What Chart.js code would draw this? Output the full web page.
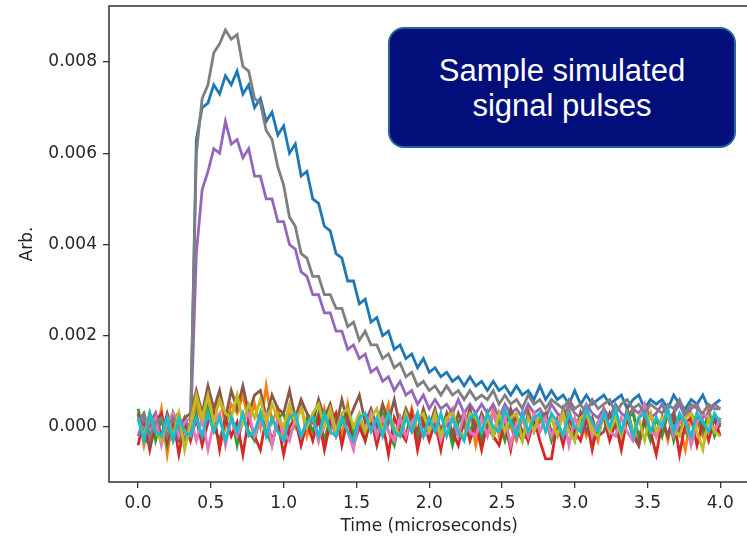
<!DOCTYPE html>
<html lang="en">
  <head>
    <meta charset="utf-8" />
    <title>Sample simulated signal pulses</title>
    <style>
      * {
        margin: 0;
        padding: 0;
      }
      body {
        width: 747px;
        height: 537px;
        overflow: hidden;
        background: #fff;
        position: relative;
      }
      #myChart {
        position: absolute;
        left: 0;
        top: 0;
      }
      .noteBox {
        position: absolute;
        left: 388px;
        top: 27px;
        width: 344px;
        height: 117px;
        border: 2px solid #23649a;
        border-radius: 16px;
        background: #020f7b;
        color: #fff;
        font-family: "Liberation Sans", Arial, sans-serif;
        font-size: 31px;
        line-height: 35px;
        display: flex;
        align-items: center;
        justify-content: center;
        text-align: center;
      }
    </style>
  </head>
  <body>
    <canvas id="myChart" width="760" height="537"></canvas>
    <div class="noteBox">Sample simulated<br />signal pulses</div>
    <script src="https://cdn.jsdelivr.net/npm/chart.js/dist/chart.umd.min.js"></script>
    <script>
      // time grid, 0.04 us steps from 0 to 4 us
      const times = Array.from({ length: 101 }, (_, i) => +(i * 0.04).toFixed(2));
      const xTicks = [0, 0.5, 1.0, 1.5, 2.0, 2.5, 3.0, 3.5, 4.0];
      const yTicks = [0, 0.002, 0.004, 0.006, 0.008];

      // signal values in units of 1e-4
      const pulseBlue = [
        2, -2, 1, 3, -3, 0, 2, -2, 1, 0,
        63, 70, 71, 75, 73, 77, 75, 78, 73, 75,
        70, 72, 67, 69, 64, 66, 60, 62, 55, 56,
        50, 49, 44, 43, 38, 37, 32, 32, 27, 28,
        23, 24, 20, 21, 17, 18, 15, 16, 13, 15,
        12, 13, 11, 12, 10, 11, 9, 11, 9, 10,
        8, 10, 8, 9, 7, 9, 7, 8, 6, 9,
        6, 8, 6, 7, 5, 8, 5, 7, 5, 6,
        7, 5, 6, 7, 4, 6, 7, 4, 6, 5,
        6, 4, 7, 5, 4, 6, 5, 7, 4, 5,
        6,
      ];
      const noiseOrange = [
        3, -4, 2, -2, 4, -6, 2, 3, -3, 1,
        5, 1, 6, 2, 7, 0, 5, 3, 7, 1,
        5, 0, 9, 1, 4, -2, 3, 0, 5, -2,
        2, -3, 4, -1, 3, -2, 5, -3, 2, -1,
        3, -2, 1, 5, -3, 2, -2, 4, -1, 2,
        -2, 3, -3, 2, 4, -2, 1, 3, -4, 2,
        -1, 4, -2, 3, 0, -3, 2, 4, -1, 1,
        3, -2, 2, -3, 4, -1, 3, -2, 1, -3,
        4, -1, 3, -2, 2, 4, -3, 1, 3, -2,
        2, -3, 3, 0, -5, 3, 1, -2, 4, -1,
        2,
      ];
      const noiseGreen = [
        4, -2, 3, -3, 2, -4, 3, -1, 2, -2,
        3, -3, 4, 0, -3, 2, 3, -4, 2, -1,
        -3, 3, -1, -4, 2, 3, -2, 1, -3, 2,
        -1, 3, -3, 2, -2, 1, 4, -2, 2, -3,
        2, -3, 3, -1, -4, 2, -2, 3, -3, 1,
        -2, 3, -3, 2, -4, 1, 3, -1, 2, -3,
        3, -2, 1, -3, 2, -2, 3, -3, 2, -1,
        2, -3, 1, -2, 3, -2, 1, 3, -4, 1,
        3, -2, 1, -3, 2, 3, -2, 1, -3, 2,
        -2, 3, -3, 2, -1, -3, 2, -1, 3, -2,
        1,
      ];
      const noiseRed = [
        -4, 2, -5, 1, 3, -3, 2, -6, 1, -3,
        2, -4, 1, 3, -5, 2, -2, 1, -6, 2,
        -2, -5, 2, -3, 1, -6, 0, 2, -4, 1,
        -3, 2, -5, 1, 3, -4, 2, -4, 0, -3,
        2, -4, 1, -6, 2, -1, -3, 3, -5, 1,
        -3, 1, -5, 2, -1, -4, 2, -3, 1, -5,
        1, -2, -4, 1, -5, 2, -1, -3, 2, -3,
        -7, -7, 1, -4, 2, -1, -3, 2, -5, 1,
        2, -3, 1, -5, 2, -2, -4, 2, -1, -6,
        1, -2, 2, -6, 1, 2, -4, 1, -3, 2,
        -2,
      ];
      const pulsePurple = [
        -2, 2, 0, 3, -2, 1, -3, 0, 2, -1,
        38, 52, 56, 61, 60, 67, 62, 63, 59, 61,
        55, 55, 50, 50, 45, 45, 40, 39, 34, 33,
        29, 29, 25, 25, 21, 21, 17, 18, 15, 16,
        12, 13, 10, 11, 8, 10, 7, 8, 5, 7,
        4, 6, 4, 5, 3, 6, 3, 5, 3, 5,
        3, 5, 2, 5, 3, 4, 2, 5, 3, 4,
        2, 5, 3, 2, 5, 3, 2, 5, 3, 2,
        4, 2, 5, 3, 2, 4, 3, 5, 2, 3,
        5, 2, 3, 5, 2, 4, 5, 2, 3, 5,
        4,
      ];
      const noiseBrown = [
        3, -2, -4, 2, -2, 3, -1, -3, 2, 3,
        8, 3, 9, 4, 8, 2, 8, 4, 9, 3,
        7, 8, 2, 7, 4, 3, 8, 2, 6, 3,
        1, 6, 2, 5, 0, 6, 1, 4, 7, 1,
        4, 0, 5, 1, 6, 0, 4, 1, -1, 4,
        0, 4, -1, 3, -2, 3, 0, 4, -1, 3,
        0, -2, 3, -1, 4, 0, -3, 3, -1, 2,
        3, -1, -2, 4, 0, -3, 3, -1, 2, -2,
        -1, 3, 0, -2, 4, -1, -4, 2, 3, -1,
        2, -2, 3, -1, 2, -3, 3, 0, -1, 2,
        0,
      ];
      const noisePink = [
        1, 3, -2, 2, -4, 1, 3, -2, 1, 2,
        -3, 2, -5, 1, 3, -4, 2, -2, 1, 3,
        -2, 1, 3, -4, 2, -1, -3, 2, -2, 1,
        2, -3, 1, 3, -2, 2, -1, -5, 2, -1,
        3, -2, 2, -1, -3, 2, -2, 1, 3, -2,
        -1, 2, -3, 1, 2, -2, 3, -1, -2, 2,
        -2, 3, -1, 2, -4, 1, 2, -2, 3, -1,
        2, -2, 1, 3, -4, 2, -1, 4, -2, 1,
        3, -1, -2, 2, -1, -3, 2, 5, -1, -2,
        1, 3, -2, 1, 2, -4, 1, 3, 2, -1,
        2,
      ];
      const pulseGray = [
        1, 3, -2, 1, 2, -2, 2, 0, -3, 1,
        60, 72, 75, 82, 84, 87, 85, 86, 79, 78,
        72, 71, 65, 63, 57, 53, 46, 44, 38, 37,
        33, 33, 29, 29, 26, 26, 22, 23, 19, 21,
        18, 18, 15, 16, 13, 14, 11, 12, 9, 10,
        8, 9, 7, 9, 7, 8, 6, 8, 6, 7,
        6, 8, 5, 7, 5, 6, 4, 7, 5, 6,
        4, 6, 5, 4, 6, 4, 5, 3, 6, 4,
        5, 6, 3, 5, 6, 4, 5, 3, 5, 4,
        3, 5, 4, 6, 3, 5, 4, 3, 5, 4,
        4,
      ];
      const noiseOlive = [
        2, -2, 3, -1, -3, 2, -2, 3, -5, 1,
        7, 2, 7, 1, 6, 3, 2, 7, 1, 5,
        2, 6, 1, 5, 2, 0, 5, 1, 4, 0,
        3, 5, 0, 4, -1, 3, 4, 0, 3, -1,
        2, 4, -1, 3, 0, -2, 3, -1, 2, 3,
        -1, 3, -2, 2, 3, -1, -2, 3, 2, -1,
        2, -2, 3, -1, 2, 3, -3, 2, -1, 3,
        -1, 2, -2, 3, -1, -3, 2, 3, -1, -2,
        3, -1, 2, -2, 3, -1, 2, -3, 3, -1,
        2, 3, -1, -2, 2, 3, -1, -5, 2, -1,
        -2,
      ];
      const noiseCyan = [
        2, -3, 3, -1, -2, 2, -3, 2, -1, -2,
        2, -2, 3, -1, 2, -3, 2, -1, 3, -2,
        -1, 3, -2, 2, -1, -3, 2, 3, -2, 1,
        2, -2, 3, -1, -2, 2, -1, -3, 2, 3,
        -1, 2, -2, 3, -1, -2, 2, -1, 3, -2,
        2, -1, 3, -2, 2, -1, -3, 2, 3, -1,
        3, 0, -1, 4, 1, -2, 3, -1, 2, 3,
        -1, 3, 1, -2, 3, 0, -1, 4, 1, -1,
        3, 0, 4, -1, 3, -2, 2, 3, -1, 2,
        0, 4, -1, 3, 1, -2, 3, 1, -1, 3,
        1,
      ];

      const series = [
        [pulseBlue, "#1f77b4"],
        [noiseOrange, "#ff7f0e"],
        [noiseGreen, "#2ca02c"],
        [noiseRed, "#d62728"],
        [pulsePurple, "#9467bd"],
        [noiseBrown, "#8c564b"],
        [noisePink, "#e377c2"],
        [pulseGray, "#7f7f7f"],
        [noiseOlive, "#bcbd22"],
        [noiseCyan, "#17becf"],
      ];

      const font = { family: "'DejaVu Sans', sans-serif", size: 17 };
      const ink = "#262626";

      // matplotlib style frame drawn over the lines
      const frame = {
        id: "frame",
        afterDatasetsDraw(chart) {
          const { ctx, chartArea: a } = chart;
          ctx.save();
          ctx.strokeStyle = "#333";
          ctx.lineWidth = 1.5;
          ctx.strokeRect(a.left, a.top, a.right - a.left, a.bottom - a.top);
          ctx.restore();
        },
      };

      const config = {
        type: "line",
        data: {
          datasets: series.map(([vals, color], i) => ({
            data: vals.map((v, j) => ({ x: times[j], y: v * 1e-4 })),
            borderColor: color,
            borderWidth: 2.8,
            pointRadius: 0,
            tension: 0,
            order: series.length - i,
          })),
        },
        options: {
          responsive: false,
          animation: false,
          layout: { padding: { left: 0, top: 6, right: 10.6, bottom: 0 } },
          plugins: { legend: { display: false }, tooltip: { enabled: false } },
          scales: {
            x: {
              type: "linear",
              min: -0.2,
              max: 4.2,
              afterFit(s) {
                s.height = 55;
              },
              afterBuildTicks(s) {
                s.ticks = xTicks.map((v) => ({ value: v }));
              },
              grid: { drawOnChartArea: false, tickLength: 6, color: "#333", lineWidth: 1.3 },
              border: { display: false },
              ticks: { font, color: ink, padding: 5.5, maxRotation: 0, callback: (v) => v.toFixed(1) },
              title: {
                display: true,
                text: "Time (microseconds)",
                font,
                color: ink,
                padding: { top: 0, bottom: 0 },
              },
            },
            y: {
              min: -0.0012055,
              max: 0.009227,
              afterFit(s) {
                s.width = 109;
                s.paddingTop = 0;
                s.paddingBottom = 0;
              },
              afterBuildTicks(s) {
                s.ticks = yTicks.map((v) => ({ value: v }));
              },
              grid: { drawOnChartArea: false, tickLength: 6, color: "#333", lineWidth: 1.3 },
              border: { display: false },
              ticks: { font, color: ink, padding: 6, callback: (v) => v.toFixed(3) },
              title: {
                display: true,
                text: "Arb.",
                font,
                color: ink,
                padding: { top: 17, bottom: 0 },
              },
            },
          },
        },
        plugins: [frame],
      };

      const myChart = new Chart(document.getElementById("myChart"), config);
    </script>
  </body>
</html>
